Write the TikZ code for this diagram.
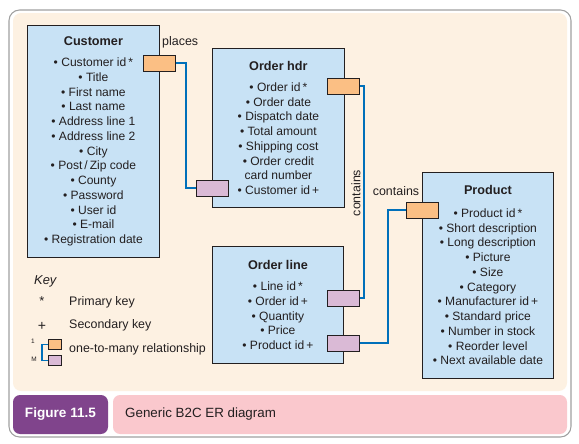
\documentclass[tikz,border=0pt]{standalone}
\usepackage{fontspec}
\setmainfont{Liberation Sans}
\usepackage{tikz}
\usetikzlibrary{positioning, calc}
\definecolor{myblue}{RGB}{0,112,186}
\definecolor{mydark}{RGB}{35,31,32}
\definecolor{hdrblue}{RGB}{200,226,245}
\definecolor{hdrcream}{RGB}{253,241,226}
\definecolor{keyorange}{RGB}{251,191,132}
\definecolor{keypurple}{RGB}{218,186,214}
\definecolor{figpurple}{RGB}{128,68,140}
\definecolor{figpink}{RGB}{250,200,205}
\definecolor{mgframe}{RGB}{160,160,160}
\newcommand{\px}{0.03cm}
\newcommand{\enttitle}[1]{{\fontsize{10.8}{12.6}\selectfont\bfseries #1}}
\tikzset{
  entity/.style={rectangle, draw=mydark, fill=hdrblue, anchor=north west,
    align=center, inner sep=0pt, line width=0.7pt, text=mydark,
    font=\fontsize{10.3}{12.6}\selectfont},
  pkey/.style={rectangle, draw=mydark, fill=keyorange, anchor=north west,
    inner sep=0pt, minimum width=32*\px, minimum height=16*\px, line width=0.7pt},
  fkey/.style={pkey, fill=keypurple},
  rel/.style={color=myblue, line width=1.6pt},
  lbl/.style={font=\fontsize{10.6}{12}\selectfont, text=mydark, inner sep=0pt}
}

\begin{document}
\begin{tikzpicture}[x=\px, y=-\px]
  \useasboundingbox (0,0) rectangle (579,444);

  % Frame and panels
  \draw[mgframe, line width=0.9pt, fill=white, rounded corners=9pt] (9,10) rectangle (571,437);
  \fill[hdrcream, rounded corners=7pt] (13,13) rectangle (567,391);
  \fill[figpurple, rounded corners=6pt] (13,395) rectangle (108,434);
  \fill[figpink, rounded corners=6pt] (113,395) rectangle (567,434);
  \node[font=\fontsize{11.6}{13}\selectfont\bfseries, text=white] (fig_num) at (60.5,414.5) {Figure 11.5};
  \node[lbl, anchor=west, font=\fontsize{11.4}{13}\selectfont] (fig_cap) at (125,414.5) {Generic B2C ER diagram};

  % Customer
  \node[entity, minimum width=132*\px, minimum height=232*\px] (cust_box) at (27,25)
    {\enttitle{Customer}\\[5.5pt]
     \textbullet\ Customer id\,*\\ \textbullet\ Title\\ \textbullet\ First name\\
     \textbullet\ Last name\\ \textbullet\ Address line 1\\ \textbullet\ Address line 2\\
     \textbullet\ City\\ \textbullet\ Post\,/\,Zip code\\ \textbullet\ County\\
     \textbullet\ Password\\ \textbullet\ User id\\ \textbullet\ E-mail\\
     \textbullet\ Registration date};

  % Order hdr
  \node[entity, minimum width=132*\px, minimum height=159*\px] (ohdr_box) at (212,48)
    {\enttitle{Order hdr}\\[5.5pt]
     \textbullet\ Order id\,*\\ \textbullet\ Order date\\ \textbullet\ Dispatch date\\
     \textbullet\ Total amount\\ \textbullet\ Shipping cost\\ \textbullet\ Order credit\\
     card number\\ \textbullet\ Customer id\,+};

  % Order line
  \node[entity, minimum width=131*\px, minimum height=117*\px] (oline_box) at (212,246)
    {\enttitle{Order line}\\[5.5pt]
     \textbullet\ Line id\,*\\ \textbullet\ Order id\,+\\ \textbullet\ Quantity\\
     \textbullet\ Price\\ \textbullet\ Product id\,+};

  % Product
  \node[entity, minimum width=131*\px, minimum height=206*\px] (prod_box) at (422,172)
    {\enttitle{Product}\\[6.5pt]
     \textbullet\ Product id\,*\\ \textbullet\ Short description\\ \textbullet\ Long description\\
     \textbullet\ Picture\\ \textbullet\ Size\\ \textbullet\ Category\\
     \textbullet\ Manufacturer id\,+\\ \textbullet\ Standard price\\ \textbullet\ Number in stock\\
     \textbullet\ Reorder level\\ \textbullet\ Next available date};

  % Key boxes
  \node[pkey] (cust_pk) at (143,55) {};
  \node[fkey] (ohdr_fk) at (196,180) {};
  \node[pkey] (ohdr_pk) at (327,78) {};
  \node[fkey] (oline_fk1) at (327,290) {};
  \node[fkey] (oline_fk2) at (327,335) {};
  \node[pkey] (prod_pk) at (406,202) {};

  % Relationships
  \draw[rel] (cust_pk.east) -- ++(10,0) |- (ohdr_fk.west);
  \draw[rel] (ohdr_pk.east) -- ++(4,0) |- (oline_fk1.east);
  \draw[rel] (oline_fk2.east) -- ++(28,0) |- (prod_pk.west);
  \node[lbl, anchor=west] (lbl_places) at (162,42) {places};
  \node[lbl, rotate=90] (lbl_cont1) at (356,193) {contains};
  \node[lbl] (lbl_cont2) at (396,191) {contains};

  % Key
  \node[lbl, anchor=west, font=\fontsize{11}{12}\selectfont\itshape] (key_title) at (34,281) {Key};
  \node[lbl, font=\fontsize{11}{12}\selectfont] (key_star) at (42,301) {*};
  \node[lbl, anchor=west] (key_pk) at (69,302) {Primary key};
  \node[lbl, font=\fontsize{12}{12}\selectfont] (key_plus) at (42,326) {+};
  \node[lbl, anchor=west] (key_sk) at (69,325) {Secondary key};
  \node[pkey, minimum width=13*\px, minimum height=10*\px] (key_one) at (48,339) {};
  \node[fkey, minimum width=13*\px, minimum height=10*\px] (key_many) at (48,355) {};
  \draw[rel, line width=1.2pt] (key_one.west) -- ++(-6,0) |- (key_many.west);
  \node[lbl, font=\fontsize{5.5}{6}\selectfont] (key_1) at (33,341) {1};
  \node[lbl, font=\fontsize{5.5}{6}\selectfont] (key_m) at (34,359) {M};
  \node[lbl, anchor=west] (key_rel) at (69,349) {one-to-many relationship};
\end{tikzpicture}
\end{document}
